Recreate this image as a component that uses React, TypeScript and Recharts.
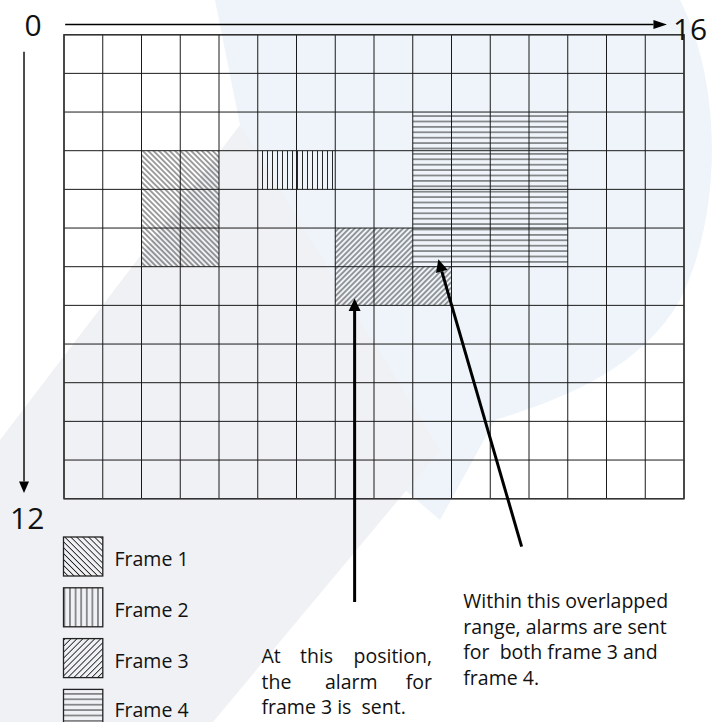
import React from 'react';
import { ComposedChart, XAxis, YAxis, CartesianGrid, ReferenceArea, ReferenceLine } from 'recharts';

// ---------- data ----------
const xTicks = [0, 1, 2, 3, 4, 5, 6, 7, 8, 9, 10, 11, 12, 13, 14, 15, 16];
const yTicks = [0, 1, 2, 3, 4, 5, 6, 7, 8, 9, 10, 11, 12];

const frameNames = ['Frame 1', 'Frame 2', 'Frame 3', 'Frame 4'];
const frame1Cells = [{ x1: 2, x2: 4, y1: 3, y2: 6 }];
const frame2Cells = [{ x1: 5, x2: 7, y1: 3, y2: 4 }];
const frame3Cells = [
  { x1: 7, x2: 9, y1: 5, y2: 6 },
  { x1: 7, x2: 10, y1: 6, y2: 7 },
];
const frame4Cells = [{ x1: 9, x2: 13, y1: 2, y2: 6 }];
const frameCells = [frame1Cells, frame2Cells, frame3Cells, frame4Cells];

const axisArrowX = { from: { x: 0.03, y: -0.264 }, to: { x: 15.56, y: -0.264 }, startLabel: '0', endLabel: '16' };
const axisArrowY = { from: { x: -1.032, y: 0.44 }, to: { x: -1.032, y: 11.85 }, endLabel: '12' };

const calloutArrows = [
  { from: { x: 7.5, y: 14.67 }, to: { x: 7.5, y: 6.82 } },
  { from: { x: 11.81, y: 13.24 }, to: { x: 9.66, y: 5.81 } },
];

const noteFrame3Lines = [['At', 'this', 'position,'], ['the', 'alarm', 'for'], ['frame 3 is  sent.']];
const noteOverlapLines = ['Within this overlapped', 'range, alarms are sent', 'for  both frame 3 and', 'frame 4.'];

// ---------- styles ----------
const FONT = '"Open Sans", "Noto Sans", sans-serif';
const patternIds = ['pBack', 'pVert', 'pFwd', 'pHoriz'];
const legendPatternIds = ['lgBack', 'lgVert', 'lgFwd', 'lgHoriz'];

const Patterns = ({ ids, diag, vert, horiz }: { ids: string[]; diag: number; vert: number; horiz: number }) => (
  <defs>
    <pattern id={ids[0]} width={diag} height={diag} patternUnits="userSpaceOnUse" patternTransform="rotate(-45)">
      <line x1={diag / 2} y1="0" x2={diag / 2} y2={diag} stroke="#111" strokeWidth="0.8" />
    </pattern>
    <pattern id={ids[1]} width={vert} height="10" patternUnits="userSpaceOnUse">
      <line x1={vert / 2} y1="0" x2={vert / 2} y2="10" stroke="#111" strokeWidth="0.9" />
    </pattern>
    <pattern id={ids[2]} width={diag} height={diag} patternUnits="userSpaceOnUse" patternTransform="rotate(45)">
      <line x1={diag / 2} y1="0" x2={diag / 2} y2={diag} stroke="#111" strokeWidth="0.8" />
    </pattern>
    <pattern id={ids[3]} width="10" height={horiz} patternUnits="userSpaceOnUse">
      <line x1="0" y1={horiz / 2} x2="10" y2={horiz / 2} stroke="#111" strokeWidth="0.9" />
    </pattern>
  </defs>
);

const makeArrow = (
  headLen: number,
  headHalf: number,
  width: number,
  labels?: { start?: string; end?: string; kind: 'x' | 'y' }
) => (p: any) => {
  const { x1, y1, x2, y2 } = p;
  const dx = x2 - x1;
  const dy = y2 - y1;
  const L = Math.hypot(dx, dy) || 1;
  const ux = dx / L;
  const uy = dy / L;
  const bx = x2 - ux * headLen;
  const by = y2 - uy * headLen;
  const nx = -uy;
  const ny = ux;
  return (
    <g>
      <line x1={x1} y1={y1} x2={bx} y2={by} stroke="#000" strokeWidth={width} />
      <polygon
        points={`${x2},${y2} ${bx + nx * headHalf},${by + ny * headHalf} ${bx - nx * headHalf},${by - ny * headHalf}`}
        fill="#000"
      />
      {labels && labels.kind === 'x' && labels.start && (
        <text x={x1 - 32} y={y1 + 11.2} textAnchor="middle" fontFamily={FONT} fontSize={30} fill="#111">
          {labels.start}
        </text>
      )}
      {labels && labels.kind === 'x' && labels.end && (
        <text x={x2 + 6} y={y1 + 15.5} textAnchor="start" fontFamily={FONT} fontSize={30} fill="#111">
          {labels.end}
        </text>
      )}
      {labels && labels.kind === 'y' && labels.end && (
        <text x={x1 + 3.2} y={y2 + 36} textAnchor="middle" fontFamily={FONT} fontSize={30} fill="#111">
          {labels.end}
        </text>
      )}
    </g>
  );
};

const Watermark = () => (
  <svg width={724} height={722} style={{ position: 'absolute', left: 0, top: 0 }}>
    <path
      d="M 215 0 L 680 0 C 725 90 720 220 680 300 C 640 370 560 400 495 420 L 440 520 L 300 400 L 240 125 Z"
      fill="#eef4f9"
    />
    <path d="M 240 125 L 440 450 L 213 722 L 0 722 L 0 440 Z" fill="#f0f1f4" />
  </svg>
);

const Overlay = () => {
  const legendTop = 537;
  const legendStep = 50.8;
  return (
    <svg width={724} height={722} style={{ position: 'absolute', left: 0, top: 0, pointerEvents: 'none' }}>
      <Patterns ids={legendPatternIds} diag={4.2} vert={5.6} horiz={5.4} />
      {frameNames.map((name, i) => (
        <g key={name}>
          <rect
            x={63.5}
            y={legendTop + i * legendStep}
            width={39.3}
            height={39}
            fill={`url(#${legendPatternIds[i]})`}
            stroke="#222"
            strokeWidth={1.3}
          />
          <text
            x={114.5}
            y={i === 3 ? 716.5 : legendTop + i * legendStep + 29.3}
            fontFamily={FONT}
            fontSize={19.5}
            fill="#111"
          >
            {name}
          </text>
        </g>
      ))}
      {/* note for frame 3 (justified) */}
      {noteFrame3Lines.map((words, i) => {
        const y = 663 + i * 25.5;
        if (words.length === 1) {
          return (
            <text key={i} x={261.5} y={y} fontFamily={FONT} fontSize={19.5} fill="#111" style={{ whiteSpace: 'pre' }}>
              {words[0]}
            </text>
          );
        }
        const mids = [300, 325];
        return (
          <text key={i} y={y} fontFamily={FONT} fontSize={19.5} fill="#111">
            <tspan x={261.5}>{words[0]}</tspan>
            <tspan x={mids[i]}>{words[1]}</tspan>
            <tspan x={432} textAnchor="end">
              {words[2]}
            </tspan>
          </text>
        );
      })}
      {noteOverlapLines.map((line, i) => (
        <text
          key={i}
          x={463.3}
          y={608 + i * 25.6}
          fontFamily={FONT}
          fontSize={19.5}
          fill="#111"
          style={{ whiteSpace: 'pre' }}
        >
          {line}
        </text>
      ))}
    </svg>
  );
};

export default function App() {
  return (
    <div
      style={{
        position: 'absolute',
        left: 0,
        top: 0,
        width: 724,
        height: 722,
        background: '#ffffff',
        overflow: 'hidden',
      }}
    >
      <Watermark />
      <div style={{ position: 'absolute', left: 0, top: 0 }}>
        <ComposedChart width={724} height={722} margin={{ top: 34.7, right: 40, bottom: 223.3, left: 64 }}>
          <Patterns ids={patternIds} diag={3.8} vert={5} horiz={5.4} />
          <XAxis type="number" dataKey="x" domain={[0, 16]} ticks={xTicks} hide allowDataOverflow />
          <YAxis type="number" dataKey="y" domain={[0, 12]} ticks={yTicks} reversed hide allowDataOverflow />
          {frameCells.map((cells, fi) =>
            cells.map((c, ci) => (
              <ReferenceArea
                key={`f${fi}-${ci}`}
                x1={c.x1}
                x2={c.x2}
                y1={c.y1}
                y2={c.y2}
                fill={`url(#${patternIds[fi]})`}
                fillOpacity={1}
                stroke="none"
                ifOverflow="visible"
              />
            ))
          )}
          <CartesianGrid stroke="#1a1a1a" strokeWidth={1} vertical horizontal />
          <ReferenceArea
            x1={0}
            x2={16}
            y1={0}
            y2={12}
            fill="none"
            fillOpacity={0}
            stroke="#333"
            strokeWidth={1.5}
            ifOverflow="visible"
          />
          <ReferenceLine
            segment={[axisArrowX.from, axisArrowX.to]}
            ifOverflow="visible"
            shape={makeArrow(13.5, 4.5, 1.4, { start: axisArrowX.startLabel, end: axisArrowX.endLabel, kind: 'x' })}
          />
          <ReferenceLine
            segment={[axisArrowY.from, axisArrowY.to]}
            ifOverflow="visible"
            shape={makeArrow(11.5, 5, 1.4, { end: axisArrowY.endLabel, kind: 'y' })}
          />
          {calloutArrows.map((a, i) => (
            <ReferenceLine
              key={`c${i}`}
              segment={[a.from, a.to]}
              ifOverflow="visible"
              shape={makeArrow(12.5, 6, 3)}
            />
          ))}
        </ComposedChart>
      </div>
      <Overlay />
    </div>
  );
}
